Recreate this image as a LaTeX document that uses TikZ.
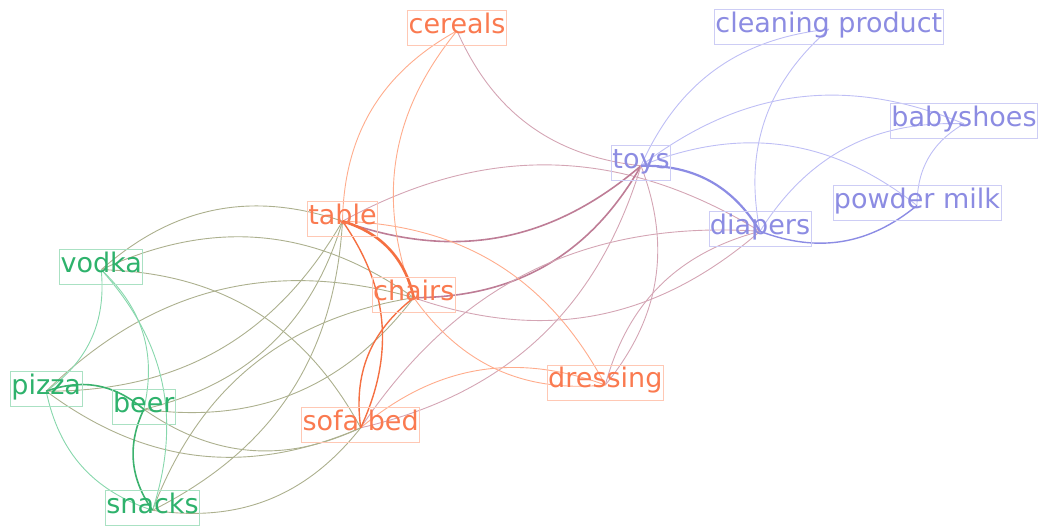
\documentclass[tikz,border=0pt]{standalone}
\usepackage{fontspec}
\setmainfont{DejaVu Sans}
\definecolor{orT}{RGB}{250,122,80}
\definecolor{orB}{RGB}{255,200,180}
\definecolor{grT}{RGB}{46,178,108}
\definecolor{grB}{RGB}{170,225,195}
\definecolor{puT}{RGB}{140,140,226}
\definecolor{puB}{RGB}{205,205,245}
\definecolor{eOr}{RGB}{255,172,140}
\definecolor{eOrS}{RGB}{245,112,66}
\definecolor{eGr}{RGB}{135,215,172}
\definecolor{eGrS}{RGB}{60,178,110}
\definecolor{ePu}{RGB}{190,190,245}
\definecolor{ePuS}{RGB}{140,140,228}
\definecolor{eOl}{RGB}{172,176,142}
\definecolor{eMa}{RGB}{212,165,180}
\definecolor{eMaS}{RGB}{190,125,150}
\begin{document}
\begin{tikzpicture}[x=1pt,y=1pt,
  lab/.style={draw, line width=0.8pt, inner xsep=1pt, inner ysep=2pt,
    text height=21pt, text depth=10pt, font=\fontsize{27}{32}\selectfont},
  og/.style={lab, draw=orB, text=orT},
  gr/.style={lab, draw=grB, text=grT},
  pu/.style={lab, draw=puB, text=puT},
  arc/.style={bend left=30, line width=0.9pt},
  eor/.style={arc, draw=eOr},
  eors/.style={arc, draw=eOrS, line width=#1},
  egr/.style={arc, draw=eGr},
  egrs/.style={arc, draw=eGrS, line width=1.6pt},
  epu/.style={arc, draw=ePu},
  epus/.style={arc, draw=ePuS, line width=#1},
  eol/.style={arc, draw=eOl},
  ema/.style={arc, draw=eMa},
  emas/.style={arc, draw=eMaS, line width=1.6pt}
]
\useasboundingbox (0,0) rectangle (1039,527);

% anchor points
\coordinate (cereals) at (457,496.2);
\coordinate (cleaning) at (828.8,497.8);
\coordinate (babyshoes) at (964,403.2);
\coordinate (powder) at (917,321.5);
\coordinate (toys) at (641,361.2);
\coordinate (diapers) at (760,295.7);
\coordinate (table) at (342.5,305.8);
\coordinate (chairs) at (413.8,229.3);
\coordinate (dressing) at (605.3,142);
\coordinate (sofa) at (360.7,99.2);
\coordinate (vodka) at (101.2,257.3);
\coordinate (pizza) at (46.2,135.8);
\coordinate (beer) at (143.8,117.7);
\coordinate (snacks) at (152.5,16.7);

% olive edges (green - orange)
\draw[eol] (vodka) to (table);
\draw[eol] (vodka) to (chairs);
\draw[eol] (vodka) to (sofa);
\draw[eol] (table) to (pizza);
\draw[eol] (pizza) to (chairs);
\draw[eol] (sofa) to (pizza);
\draw[eol] (table) to (beer);
\draw[eol] (chairs) to (beer);
\draw[eol] (sofa) to (beer);
\draw[eol] (table) to (snacks);
\draw[eol] (snacks) to (chairs);
\draw[eol] (sofa) to (snacks);

% green edges
\draw[egr] (vodka) to (pizza);
\draw[egr] (vodka) to (beer);
\draw[egr] (vodka) to (snacks);
\draw[egr] (snacks) to (pizza);
\draw[egrs] (pizza) to (beer);
\draw[egrs] (snacks) to (beer);

% mauve edges (orange - purple)
\draw[ema] (toys) to (cereals);
\draw[ema] (table) to (diapers);
\draw[emas] (toys) to (table);
\draw[emas] (toys) to (chairs);
\draw[ema] (diapers) to (chairs);
\draw[ema] (toys) to (sofa);
\draw[ema] (sofa) to (diapers);
\draw[ema] (toys) to (dressing);
\draw[ema] (dressing) to (diapers);

% orange edges
\draw[eor] (table) to (cereals);
\draw[eor] (chairs) to (cereals);
\draw[eor] (table) to (dressing);
\draw[eor] (dressing) to (chairs);
\draw[eor] (sofa) to (dressing);
\draw[eors=1.4pt] (table) to (sofa);
\draw[eors=1.4pt] (sofa) to (chairs);
\draw[eors=2.6pt] (table) to (chairs);

% purple edges
\draw[epu] (toys) to (cleaning);
\draw[epu] (diapers) to (cleaning);
\draw[epu] (toys) to (babyshoes);
\draw[epu] (toys) to (powder);
\draw[epu] (diapers) to (babyshoes);
\draw[epu] (powder) to (babyshoes);
\draw[epus=1.4pt] (powder) to (diapers);
\draw[epus=2.2pt] (toys) to (diapers);

% labels
\node[og] (cereals-l) at ([yshift=2.5pt]cereals) {cereals};
\node[pu] (cleaning-l) at ([yshift=2.5pt]cleaning) {cleaning product};
\node[pu] (babyshoes-l) at ([yshift=2.5pt]babyshoes) {babyshoes};
\node[pu] (powder-l) at ([yshift=2.5pt]powder) {powder milk};
\node[pu] (toys-l) at ([yshift=2.5pt]toys) {toys};
\node[pu] (diapers-l) at ([yshift=2.5pt]diapers) {diapers};
\node[og] (table-l) at ([yshift=2.5pt]table) {table};
\node[og] (chairs-l) at ([yshift=2.5pt]chairs) {chairs};
\node[og] (dressing-l) at ([yshift=2.5pt]dressing) {dressing};
\node[og] (sofa-l) at ([yshift=2.5pt]sofa) {sofa bed};
\node[gr] (vodka-l) at ([yshift=2.5pt]vodka) {vodka};
\node[gr] (pizza-l) at ([yshift=2.5pt]pizza) {pizza};
\node[gr] (beer-l) at ([yshift=2.5pt]beer) {beer};
\node[gr] (snacks-l) at ([yshift=2.5pt]snacks) {snacks};
\end{tikzpicture}
\end{document}
